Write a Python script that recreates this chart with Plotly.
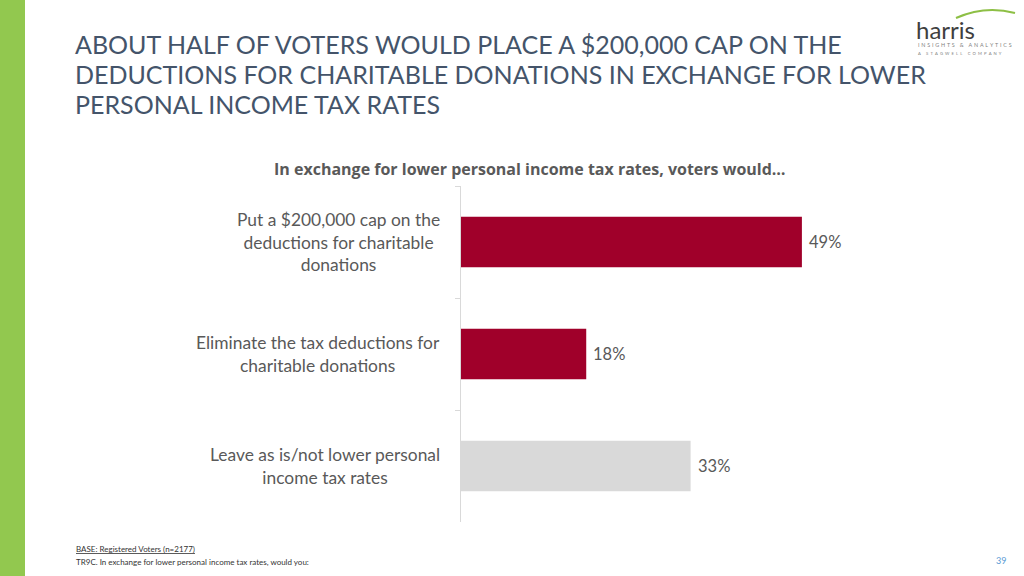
import plotly.graph_objects as go

categories = [
    "Put a $200,000 cap on the<br>deductions for charitable<br>donations",
    "Eliminate the tax deductions for<br>charitable donations",
    "Leave as is/not lower personal<br>income tax rates",
]
values = [49, 18, 33]
value_labels = ["49%", "18%", "33%"]
bar_colors = ["#A0002A", "#A0002A", "#D9D9D9"]

title_lines = [
    "ABOUT HALF OF VOTERS WOULD PLACE A $200,000 CAP ON THE",
    "DEDUCTIONS FOR CHARITABLE DONATIONS IN EXCHANGE FOR LOWER",
    "PERSONAL INCOME TAX RATES",
]
subtitle = "In exchange for lower personal income tax rates, voters would…"
base_note = "BASE: Registered Voters (n=2177)"
question_note = "TR9C. In exchange for lower personal income tax rates, would you:"
page_no = "39"
logo_name = "harris"
logo_line1 = "INSIGHTS & ANALYTICS"
logo_line2 = "A STAGWELL COMPANY"

FONT = "Lato"
TXT = "#595959"
CAT_SIZE = 17.4

fig = go.Figure()
fig.add_trace(go.Bar(
    x=values, y=categories, orientation="h",
    marker=dict(color=bar_colors, line=dict(width=0)),
    width=0.45, hoverinfo="skip",
))

W, H = 1024, 576
L, R, T, B = 461, 76, 186, 54
pw = W - L - R
ph = H - T - B


def px_x(px):
    return (px - L) / pw


def px_y(py):
    return 1 - (py - T) / ph


ann = []
# category labels: block right-bounded at 442px, lines centred within block
for c in categories:
    ann.append(dict(x=px_x(442), xref="paper", y=c, yref="y", text=c,
                    showarrow=False, xanchor="right", yanchor="middle", align="center",
                    font=dict(family=FONT, size=CAT_SIZE, color=TXT)))
# value labels
for c, v, t in zip(categories, values, value_labels):
    ann.append(dict(x=v, xref="x", y=c, yref="y", text=t, showarrow=False,
                    xanchor="left", yanchor="middle", xshift=5,
                    font=dict(family=FONT, size=16.5, color=TXT)))
# title
for i, line in enumerate(title_lines):
    ann.append(dict(x=px_x(73), xref="paper", y=px_y(44 + 30 * i), yref="paper",
                    text=line, showarrow=False, xanchor="left", yanchor="middle",
                    font=dict(family=FONT, size=25, color="#44546A")))
# subtitle
ann.append(dict(x=px_x(530), xref="paper", y=px_y(169), yref="paper", text="<b>" + subtitle + "</b>",
                showarrow=False, xanchor="center", yanchor="middle",
                font=dict(family="Open Sans", size=16, color=TXT)))
# footnotes
ann.append(dict(x=px_x(74), xref="paper", y=px_y(549), yref="paper", text="<u>" + base_note + "</u>",
                showarrow=False, xanchor="left", yanchor="middle",
                font=dict(family=FONT, size=8, color="#333333")))
ann.append(dict(x=px_x(74), xref="paper", y=px_y(562), yref="paper", text=question_note,
                showarrow=False, xanchor="left", yanchor="middle",
                font=dict(family=FONT, size=8, color="#333333")))
ann.append(dict(x=px_x(1001), xref="paper", y=px_y(560), yref="paper", text=page_no,
                showarrow=False, xanchor="center", yanchor="middle",
                font=dict(family=FONT, size=9, color="#5B9BD5")))
# logo text
ann.append(dict(x=px_x(914), xref="paper", y=px_y(30), yref="paper", text=logo_name,
                showarrow=False, xanchor="left", yanchor="middle",
                font=dict(family=FONT, size=24, color="#3F3F3F")))
ann.append(dict(x=px_x(916), xref="paper", y=px_y(45), yref="paper",
                text="\u2004".join(logo_line1).replace("&", "&amp;"),
                showarrow=False, xanchor="left", yanchor="middle",
                font=dict(family=FONT, size=5.4, color="#7F7F7F")))
ann.append(dict(x=px_x(916), xref="paper", y=px_y(53), yref="paper",
                text="\u2002".join(logo_line2),
                showarrow=False, xanchor="left", yanchor="middle",
                font=dict(family=FONT, size=4.2, color="#7F7F7F")))

shapes = [
    # left green band
    dict(type="rect", xref="paper", yref="paper", x0=px_x(0), x1=px_x(25),
         y0=px_y(576), y1=px_y(0), fillcolor="#92C84F", line=dict(width=0), layer="below"),
    # logo swoosh
    dict(type="path", xref="paper", yref="paper",
         path=f"M {px_x(956)},{px_y(18)} Q {px_x(985)},{px_y(5)} {px_x(1015)},{px_y(13)}",
         line=dict(color="#8DBF45", width=2)),
]

fig.update_layout(
    width=W, height=H, autosize=False,
    margin=dict(l=L, r=R, t=T, b=B, pad=0),
    paper_bgcolor="white", plot_bgcolor="white",
    showlegend=False, bargap=0.55,
    xaxis=dict(range=[0, 70], visible=False, fixedrange=True),
    yaxis=dict(autorange="reversed", showticklabels=False, showline=True,
               linecolor="#D9D9D9", linewidth=1, ticks="outside", ticklen=5,
               tickcolor="#D9D9D9", tickson="boundaries", showgrid=False,
               zeroline=False, fixedrange=True),
    annotations=ann, shapes=shapes,
)

fig.write_html("out.html", config={"displayModeBar": False},
               post_script="document.body.style.margin='0';document.body.style.overflow='hidden';")
